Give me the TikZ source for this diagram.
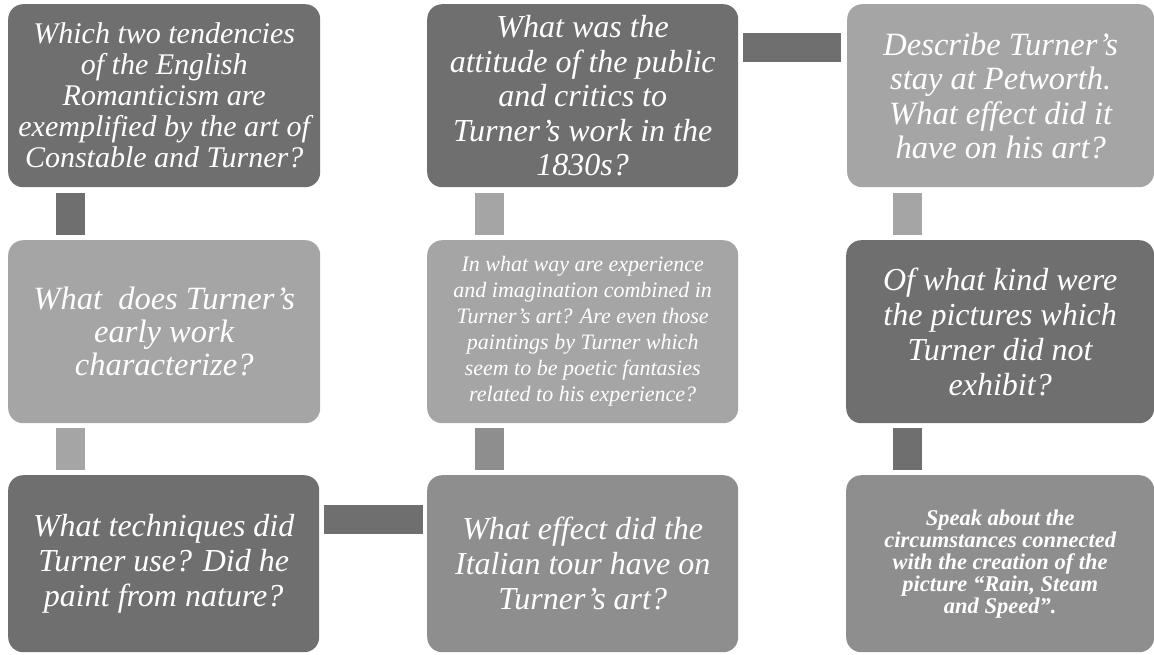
\documentclass[tikz,border=0pt]{standalone}
\usepackage{fontspec}
\setmainfont{Liberation Serif}
\definecolor{cdark}{HTML}{6F6F6F}
\definecolor{clight}{HTML}{A5A5A5}
\definecolor{cmed}{HTML}{8E8E8E}
\newcommand{\fs}[2]{\fontsize{#1}{#2}\selectfont}
\tikzset{
  box/.style={rectangle, rounded corners=15pt, draw=none, text=white, align=center,
    inner sep=0pt, anchor=north west},
  big/.style={font=\fs{32}{34.5}\itshape},
  bar/.style={line width=29pt, line cap=butt},
}
\begin{document}
\begin{tikzpicture}[x=1pt,y=-1pt]
\useasboundingbox (0,0) rectangle (1154,654);
% row 1
\node[box, fill=cdark, minimum width=312pt, minimum height=183pt, font=\fs{30}{31}\itshape] (a1) at (8,4)
  {Which two tendencies\\of the English\\Romanticism are\\exemplified by the art of\\Constable and Turner?};
\node[box, big, fill=cdark, minimum width=311pt, minimum height=183pt] (b1) at (427,4)
  {What was the\\attitude of the public\\and critics to\\Turner's work in the\\1830s?};
\node[box, big, fill=clight, minimum width=307pt, minimum height=183pt, font=\fs{32.5}{34.5}\itshape] (c1) at (847,4)
  {Describe Turner's\\stay at Petworth.\\What effect did it\\have on his art?};
% row 2
\node[box, fill=clight, minimum width=312pt, minimum height=183pt, font=\fs{32.5}{33}\itshape] (a2) at (8,240)
  {What\ \ does Turner's\\early work\\characterize?};
\node[box, fill=clight, minimum width=311pt, minimum height=183pt, font=\fs{22}{26}\itshape] (b2) at (427,240)
  {In what way are experience\\and imagination combined in\\Turner's art? Are even those\\paintings by Turner which\\seem to be poetic fantasies\\related to his experience?};
\node[box, big, fill=cdark, minimum width=308pt, minimum height=183pt, font=\fs{32}{35}\itshape] (c2) at (846,240)
  {Of what kind were\\the pictures which\\Turner did not\\exhibit?};
% row 3
\node[box, big, fill=cdark, minimum width=311pt, minimum height=177pt, font=\fs{32}{35}\itshape] (a3) at (8,475)
  {What techniques did\\Turner use? Did he\\paint from nature?};
\node[box, big, fill=cmed, minimum width=311pt, minimum height=177pt, font=\fs{32}{35}\itshape] (b3) at (427,475)
  {What effect did the\\Italian tour have on\\Turner's art?};
\node[box, fill=cmed, minimum width=308pt, minimum height=177pt, font=\fs{22.5}{22}\bfseries\itshape] (c3) at (846,475)
  {Speak about the\\circumstances connected\\with the creation of the\\picture “Rain, Steam\\and Speed”.};
% connectors
\draw[bar, cdark]  ([xshift=62.5pt,yshift=-6pt]a1.south west) -- ([xshift=62.5pt,yshift=5pt]a2.north west);
\draw[bar, clight] ([xshift=62.5pt,yshift=-5pt]a2.south west) -- ([xshift=62.5pt,yshift=5pt]a3.north west);
\draw[bar, clight] ([xshift=62.5pt,yshift=-6pt]b1.south west) -- ([xshift=62.5pt,yshift=5pt]b2.north west);
\draw[bar, cmed]   ([xshift=62.5pt,yshift=-5pt]b2.south west) -- ([xshift=62.5pt,yshift=5pt]b3.north west);
\draw[bar, clight] ([xshift=60.5pt,yshift=-6pt]c1.south west) -- ([xshift=61.5pt,yshift=5pt]c2.north west);
\draw[bar, cdark]  ([xshift=61.5pt,yshift=-5pt]c2.south west) -- ([xshift=61.5pt,yshift=5pt]c3.north west);
\draw[bar, cdark]  ([xshift=5pt,yshift=-43.5pt]b1.north east) -- ([xshift=-6pt,yshift=-43.5pt]c1.north west);
\draw[bar, cdark]  ([xshift=5pt,yshift=-44.5pt]a3.north east) -- ([xshift=-4pt,yshift=-44.5pt]b3.north west);
\end{tikzpicture}
\end{document}
